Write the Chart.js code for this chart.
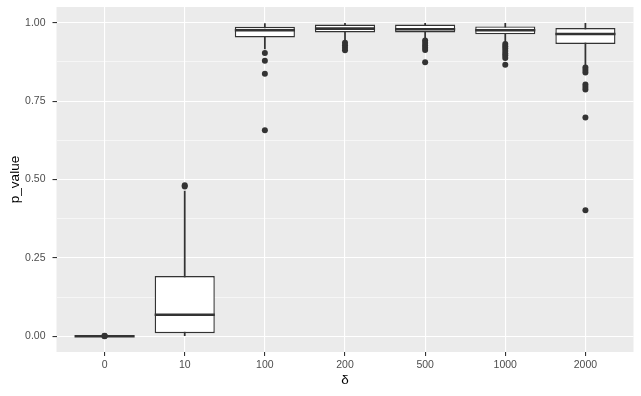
<!DOCTYPE html>
<html>
<head>
<meta charset="utf-8">
<script src="https://cdn.jsdelivr.net/npm/chart.js@4/dist/chart.umd.min.js"></script>
<style>
  html, body { margin: 0; padding: 0; background: #fff; }
  #chart { display: block; }
</style>
</head>
<body>
<canvas id="chart" width="641" height="396"></canvas>
<script>
// delta groups on the x axis
const deltas = ['0', '10', '100', '200', '500', '1000', '2000']

// box statistics
const lowerWhisker = [0, 0.002, 0.916, 0.941, 0.948, 0.937, 0.863]
const q1Values = [0, 0.010, 0.953, 0.969, 0.969, 0.963, 0.932]
const medianValues = [0, 0.069, 0.976, 0.981, 0.979, 0.976, 0.964]
const q3Values = [0, 0.192, 0.987, 0.994, 0.994, 0.988, 0.983]
const upperWhisker = [0, 0.463, 0.997, 0.998, 0.998, 0.998, 0.998]

// outlying points per group
const outliers = [
  [0.000, 0.001, 0.002],
  [0.478, 0.482],
  [0.903, 0.879, 0.837, 0.657],
  [0.936, 0.928, 0.920, 0.912],
  [0.943, 0.935, 0.927, 0.920, 0.913, 0.874],
  [0.932, 0.925, 0.918, 0.910, 0.902, 0.895, 0.887, 0.866],
  [0.857, 0.849, 0.841, 0.803, 0.795, 0.787, 0.698, 0.402]
]

const yTicks = [0, 0.25, 0.5, 0.75, 1]

const FONT = '"Liberation Sans", Arial, sans-serif'
const DARK = '#333333'

const boxData = deltas.map((d, i) => ({ x: i, y: [q1Values[i], q3Values[i]] }))
const whiskerData = deltas.map((d, i) => ({ x: i, y: [lowerWhisker[i], upperWhisker[i]] }))
const outlierData = []
outliers.forEach((vals, i) => vals.forEach(v => outlierData.push({ x: i, y: v })))

const panelBackground = {
  id: 'panelBackground',
  beforeDraw(chart) {
    const { ctx, chartArea } = chart
    ctx.save()
    ctx.fillStyle = '#EBEBEB'
    ctx.fillRect(chartArea.left, chartArea.top, chartArea.right - chartArea.left, chartArea.bottom - chartArea.top)
    ctx.restore()
  }
}

// median lines across each box
const medianLines = {
  id: 'medianLines',
  afterDatasetsDraw(chart) {
    const { ctx } = chart
    const meta = chart.getDatasetMeta(1)
    const yScale = chart.scales.y
    ctx.save()
    ctx.strokeStyle = DARK
    ctx.lineWidth = 2.6
    meta.data.forEach((el, i) => {
      const { x, width } = el.getProps(['x', 'width'], true)
      const y = yScale.getPixelForValue(medianValues[i])
      ctx.beginPath()
      ctx.moveTo(x - width / 2, y)
      ctx.lineTo(x + width / 2, y)
      ctx.stroke()
    })
    ctx.restore()
  }
}

new Chart(document.getElementById('chart'), {
  type: 'bar',
  data: {
    datasets: [
      {
        type: 'line',
        data: outlierData,
        showLine: false,
        pointRadius: 3,
        pointBackgroundColor: DARK,
        pointBorderWidth: 0,
        order: 0
      },
      {
        data: boxData,
        backgroundColor: '#FFFFFF',
        borderColor: DARK,
        borderWidth: 1.4,
        borderSkipped: false,
        categoryPercentage: 1,
        barPercentage: 0.75,
        grouped: false,
        order: 1
      },
      {
        data: whiskerData,
        backgroundColor: DARK,
        borderWidth: 0,
        barThickness: 1.1,
        grouped: false,
        order: 2
      }
    ]
  },
  options: {
    responsive: false,
    animation: false,
    layout: { padding: { left: 0, right: 7.5, top: 7, bottom: 0 } },
    plugins: {
      legend: { display: false },
      tooltip: { enabled: false }
    },
    scales: {
      x: {
        type: 'linear',
        min: -0.6,
        max: 6.6,
        offset: false,
        afterFit(scale) {
          scale.height = 44
          scale.paddingLeft = 0
          scale.paddingRight = 0
        },
        ticks: {
          stepSize: 1,
          includeBounds: false,
          padding: 3,
          color: '#4D4D4D',
          font: { family: FONT, size: 10.5 },
          maxRotation: 0,
          callback: v => deltas[v] ?? ''
        },
        grid: {
          offset: false,
          color: '#FFFFFF',
          lineWidth: 1.1,
          tickColor: DARK,
          tickLength: 4
        },
        border: { display: false },
        title: {
          display: true,
          text: 'δ',
          color: '#000000',
          font: { family: FONT, size: 13.5 },
          padding: { top: 0, bottom: 8 }
        }
      },
      y: {
        min: -0.05,
        max: 1.05,
        afterFit(scale) {
          scale.width = 56.5
          scale.paddingTop = 0
          scale.paddingBottom = 0
        },
        ticks: {
          stepSize: 0.125,
          includeBounds: false,
          padding: 7,
          color: '#4D4D4D',
          font: { family: FONT, size: 10.5 },
          callback: v => yTicks.includes(v) ? v.toFixed(2) : ''
        },
        grid: {
          color: '#FFFFFF',
          lineWidth: c => yTicks.includes(c.tick.value) ? 1.1 : 0.55,
          tickColor: c => yTicks.includes(c.tick.value) ? DARK : 'rgba(0,0,0,0)',
          tickLength: 4
        },
        border: { display: false },
        title: {
          display: true,
          text: 'p_value',
          color: '#000000',
          font: { family: FONT, size: 13.5 },
          padding: { top: 7, bottom: 0 }
        }
      }
    }
  },
  plugins: [panelBackground, medianLines]
})
</script>
</body>
</html>
